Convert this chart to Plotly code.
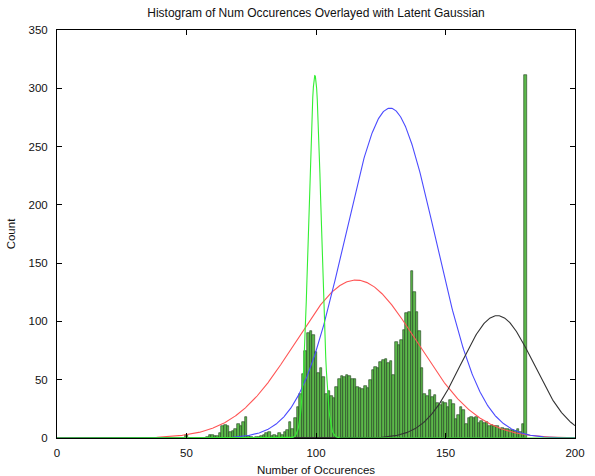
import numpy as np
import plotly.graph_objects as go

# Histogram bins (integer values) and counts
bin_values = list(range(50, 182))
bin_counts = [
    3, 0, 0, 0, 0, 0, 0, 0, 1, 3,          # 50-59
    3, 2, 2, 4, 10, 11, 10, 5, 6, 8,        # 60-69
    12, 10, 14, 18, 2, 1, 0, 1, 1, 2,       # 70-79
    3, 4, 5, 2, 3, 2, 4, 3, 5, 7,           # 80-89
    14, 8, 17, 27, 38, 55, 75, 90, 92, 88,  # 90-99
    74, 56, 60, 52, 38, 40, 36, 34, 44, 51, # 100-109
    53, 52, 54, 53, 51, 51, 44, 43, 42, 45, # 110-119
    43, 50, 58, 61, 60, 65, 67, 68, 64, 66, # 120-129
    54, 82, 80, 84, 93, 107, 108, 143, 125, 108,  # 130-139
    92, 60, 38, 36, 41, 35, 37, 30, 28, 31, # 140-149
    30, 27, 33, 29, 16, 20, 27, 24, 12, 17, # 150-159
    18, 17, 18, 13, 15, 13, 14, 10, 11, 10, # 160-169
    10, 8, 9, 8, 8, 7, 7, 6, 8, 5,          # 170-179
    12, 311,                                # 180-181
]

# Latent Gaussian components: mean, standard deviation, peak height
gauss_names = ["red", "blue", "black", "green"]
gauss_means = [115.5, 128.6, 170.0, 99.6]
gauss_sigmas = [23.5, 17.5, 14.0, 2.4]
gauss_peaks = [135.5, 283.0, 105.0, 311.0]
gauss_colors = ["#ff5555", "#4b4bff", "#333333", "#33ee33"]

x_grid = np.linspace(0, 200, 801)

fig = go.Figure()
fig.add_trace(go.Bar(
    x=bin_values, y=bin_counts, width=1.0,
    marker=dict(color="#5cb84a", line=dict(color="#1f3d1b", width=0.6)),
    showlegend=False, hoverinfo="x+y",
))
for name, mu, sd, pk, col in zip(gauss_names, gauss_means, gauss_sigmas, gauss_peaks, gauss_colors):
    y = pk * np.exp(-0.5 * ((x_grid - mu) / sd) ** 2)
    fig.add_trace(go.Scatter(x=x_grid, y=y, mode="lines", name=name,
                             line=dict(color=col, width=1.1), showlegend=False))

font = "Liberation Sans, Arial, sans-serif"
L, R, T, B = 57, 20, 30, 38
fig.update_layout(
    width=595, height=476,
    margin=dict(l=L, r=R, t=T, b=B, autoexpand=False),
    paper_bgcolor="white", plot_bgcolor="white",
    bargap=0,
    font=dict(family=font, size=11.5, color="#111111"),
    title=dict(text="Histogram of Num Occurences Overlayed with Latent Gaussian",
               x=(L + 595 - R) / 2 / 595, xanchor="center", y=1 - 13 / 476, yanchor="middle",
               font=dict(size=12, family=font)),
)
fig.update_xaxes(
    range=[0, 200], tickvals=[0, 50, 100, 150, 200],
    ticks="inside", ticklen=5, tickcolor="black",
    showline=True, linecolor="black", linewidth=1, mirror="ticks",
    showgrid=False, zeroline=False, automargin=False,
    ticklabelstandoff=4,
    title=dict(text="Number of Occurences", standoff=8, font=dict(size=11.5)),
    tickfont=dict(size=11.5),
)
fig.update_yaxes(
    range=[0, 350], tickvals=[0, 50, 100, 150, 200, 250, 300, 350],
    ticks="inside", ticklen=5, tickcolor="black",
    showline=True, linecolor="black", linewidth=1, mirror="ticks",
    showgrid=False, zeroline=False, automargin=False,
    ticklabelstandoff=6,
    title=dict(text="Count", standoff=10, font=dict(size=11.5)),
    tickfont=dict(size=11.5),
)

fig.write_html("out.html", config={"displayModeBar": False},
               post_script="document.body.style.margin='0';document.body.style.overflow='hidden';")
